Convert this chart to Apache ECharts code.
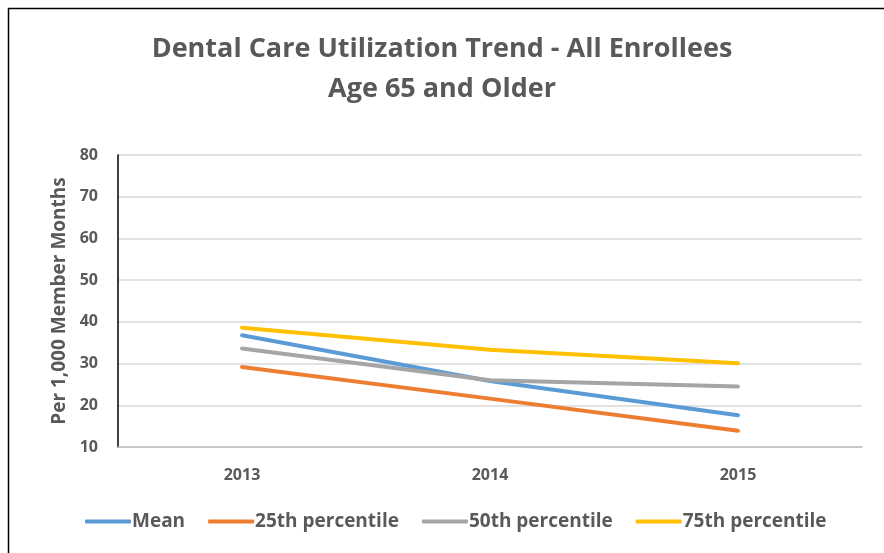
<!DOCTYPE html>
<html>
<head>
<meta charset="utf-8">
<script src="https://cdn.jsdelivr.net/npm/echarts@6/dist/echarts.min.js"></script>
<style>
  html, body { margin: 0; padding: 0; background: #fff; }
  #main { width: 884px; height: 553px; }
</style>
</head>
<body>
<div id="main"></div>
<script>
var years = ['2013', '2014', '2015'];
var meanData = [36.8, 25.8, 17.6];
var p25Data = [29.2, 21.6, 13.9];
var p50Data = [33.6, 26.0, 24.5];
var p75Data = [38.6, 33.3, 30.1];
var yTicks = [10, 20, 30, 40, 50, 60, 70, 80];

var chart = echarts.init(document.getElementById('main'));

function lineSeries(name, data, color) {
    return {
        name: name,
        type: 'line',
        data: data,
        symbol: 'none',
        color: color,
        lineStyle: { width: 4, color: color, cap: 'round' }
    };
}

var option = {
    backgroundColor: '#fff',
    textStyle: { fontFamily: 'Open Sans' },
    graphic: [
        {
            type: 'rect',
            shape: { x: 8.5, y: 8.5, width: 900, height: 600 },
            style: { fill: 'none', stroke: '#000', lineWidth: 1.5 },
            silent: true
        }
    ],
    title: {
        text: 'Dental Care Utilization Trend - All Enrollees\nAge 65 and Older',
        left: 'center',
        top: 24,
        textStyle: {
            fontSize: 27,
            fontWeight: 'bold',
            color: '#595959',
            lineHeight: 40
        }
    },
    legend: {
        bottom: 17,
        left: 80,
        itemWidth: 46,
        itemHeight: 4,
        itemGap: 23,
        icon: 'roundRect',
        textStyle: { fontSize: 19, fontWeight: 'bold', color: '#595959', padding: [0, 0, 0, -4] },
        data: ['Mean', '25th percentile', '50th percentile', '75th percentile']
    },
    grid: {
        left: 118,
        right: 22,
        top: 155,
        bottom: 106
    },
    xAxis: {
        type: 'category',
        data: years,
        boundaryGap: true,
        axisLine: { lineStyle: { color: '#bfbfbf', width: 1.5 } },
        axisTick: { show: false },
        axisLabel: { fontSize: 16, fontWeight: 'bold', color: '#595959', margin: 20 }
    },
    yAxis: {
        type: 'value',
        min: yTicks[0],
        max: yTicks[yTicks.length - 1],
        interval: 10,
        name: 'Per 1,000 Member Months',
        nameLocation: 'middle',
        nameGap: 48,
        nameTextStyle: { fontSize: 19, fontWeight: 'bold', color: '#595959' },
        axisLine: { show: true, lineStyle: { color: '#000', width: 1.5 } },
        axisTick: { show: false },
        axisLabel: { fontSize: 16, fontWeight: 'bold', color: '#595959', margin: 20 },
        splitLine: { lineStyle: { color: '#d9d9d9', width: 1.5 } }
    },
    series: [
        lineSeries('Mean', meanData, '#5b9bd5'),
        lineSeries('25th percentile', p25Data, '#ed7d31'),
        lineSeries('50th percentile', p50Data, '#a5a5a5'),
        lineSeries('75th percentile', p75Data, '#ffc000')
    ]
};

chart.setOption(option);
</script>
</body>
</html>
